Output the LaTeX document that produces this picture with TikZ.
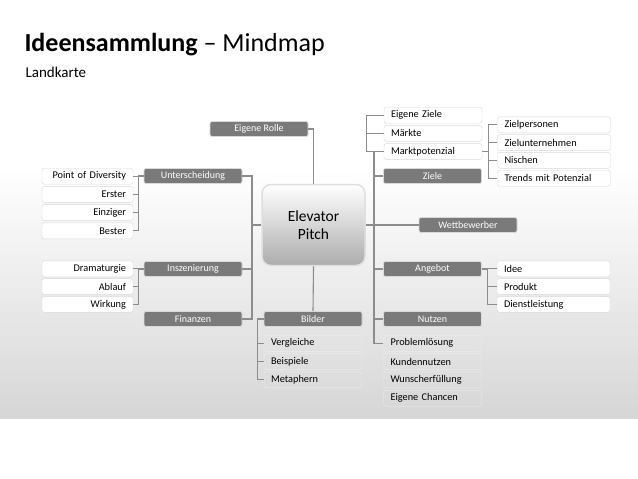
\documentclass[tikz,border=0pt]{standalone}
\usepackage{fontspec}
\setmainfont{Carlito}
\usetikzlibrary{positioning}
\definecolor{topicgray}{RGB}{122,122,122}
\definecolor{linegray}{RGB}{140,140,140}
\definecolor{slidegray}{RGB}{214,214,214}

\begin{document}
\begin{tikzpicture}[
x=1pt,y=-1pt,
topic/.style={
  draw=gray!30,
  line width=0.8pt,
  fill=topicgray,
  text=white,
  rounded corners=2pt,
  minimum width=98pt,
  minimum height=15pt,
  inner sep=0pt,
  font=\fontsize{10}{12}\selectfont
  },
item/.style={
  draw=gray!30,
  fill=white,
  rounded corners=2.5pt,
  minimum height=16pt,
  inner sep=0pt,
  inner xsep=7pt,
  font=\fontsize{10.3}{12}\selectfont
  },
litem/.style={item, text width=77pt, align=right},
ritem/.style={item, text width=84pt, align=left},
fitem/.style={item, text width=99pt, align=left},
bitem/.style={item, draw=white!85!gray, fill=none, text width=84pt, align=left},
link/.style={
  draw=linegray,
  line width=1.1pt
  },
pitch/.style={
  draw=gray!25,
  line width=1.5pt,
  rounded corners=9pt,
  top color=white,
  bottom color=gray!65,
  minimum width=103pt,
  minimum height=81pt,
  align=center,
  font=\fontsize{15.5}{18.5}\selectfont
  }
]
\useasboundingbox (0,0) rectangle (638,479);
\fill[white] (0,0) rectangle (638,170);
\shade[top color=white, bottom color=slidegray] (0,169) rectangle (638,418);

\node[anchor=base west, font=\fontsize{26}{30}\selectfont] (title) at (21,52) {\textbf{Ideensammlung} – Mindmap};
\node[anchor=base west, font=\fontsize{15}{18}\selectfont] (sub) at (22,77) {Landkarte};

% centre and main topics
\node[pitch] (center) at (313.5,225) {Elevator\\Pitch};
\node[topic] (rolle) at (259,129) {Eigene Rolle};
\node[topic] (unter) at (193,176) {Unterscheidung};
\node[topic] (insz) at (193,269) {Inszenierung};
\node[topic] (fin) at (193,319) {Finanzen};
\node[topic] (bilder) at (313,319) {Bilder};
\node[topic] (ziele) at (432.5,176) {Ziele};
\node[topic] (wett) at (468,225) {Wettbewerber};
\node[topic] (angebot) at (432.5,269) {Angebot};
\node[topic] (nutzen) at (432.5,319) {Nutzen};

% subtopics
\foreach \t [count=\i] in {Point of Diversity,Erster,Einziger,Bester}
  \node[litem] (ut-\i) at (87.5,{158+18.2*\i}) {\t};
\foreach \t [count=\i] in {Dramaturgie,Ablauf,Wirkung}
  \node[litem] (in-\i) at (87.5,{251+17.8*\i}) {\t};
\foreach \t [count=\i] in {Eigene Ziele,Märkte,Marktpotenzial}
  \node[ritem] (zl-\i) at (433,{97+18.2*\i}) {\t};
\foreach \t [count=\i] in {Zielpersonen,Zielunternehmen,Nischen,Trends mit Potenzial}
  \node[fitem] (zp-\i) at (554,{107+17.8*\i}) {\t};
\foreach \t [count=\i] in {Idee,Produkt,Dienstleistung}
  \node[fitem] (an-\i) at (553.5,{251+17.8*\i}) {\t};
\foreach \t [count=\i] in {Vergleiche,Beispiele,Metaphern}
  \node[bitem] (bi-\i) at (313,{325+18.3*\i}) {\t};
\foreach \t [count=\i] in {Problemlösung,Kundennutzen,Wunscherfüllung,Eigene Chancen}
  \node[bitem] (nu-\i) at (432.5,{325+18.3*\i}) {\t};

% trunks
\coordinate (ltrunk) at (252,225);
\coordinate (rtrunk) at (374,225);
\draw[link] (center.west) -- (ltrunk);
\foreach \n in {unter,insz,fin}
  \draw[link] (\n.east) -| (ltrunk);
\foreach \n in {ziele,angebot,nutzen,zl-3,nu-1}
  \draw[link] (\n.west) -| (rtrunk);
\draw[link] (center.east) -- (wett.west);
\draw[link] (rolle.east) -| (center.north);
\draw[link] (center.south) -- (bilder.north);

% brackets
\foreach \i in {1,...,4}
  \draw[link] (unter.west) -- ++(-5,0) |- (ut-\i.east);
\foreach \i in {1,2,3}
  \draw[link] (insz.west) -- ++(-5,0) |- (in-\i.east);
\foreach \i in {1,2}
  \draw[link] (zl-\i.west) -- ++(-17,0) |- (zl-3.west);
\foreach \i in {1,...,4}
  \draw[link] (zl-3.east) -- ++(6,0) |- (zp-\i.west);
\foreach \i in {1,2,3}
  \draw[link] (angebot.east) -- ++(6,0) |- (an-\i.west);
\foreach \i in {1,2,3}
  \draw[link] (bilder.west) -- ++(-6,0) |- (bi-\i.west);
\end{tikzpicture}
\end{document}
